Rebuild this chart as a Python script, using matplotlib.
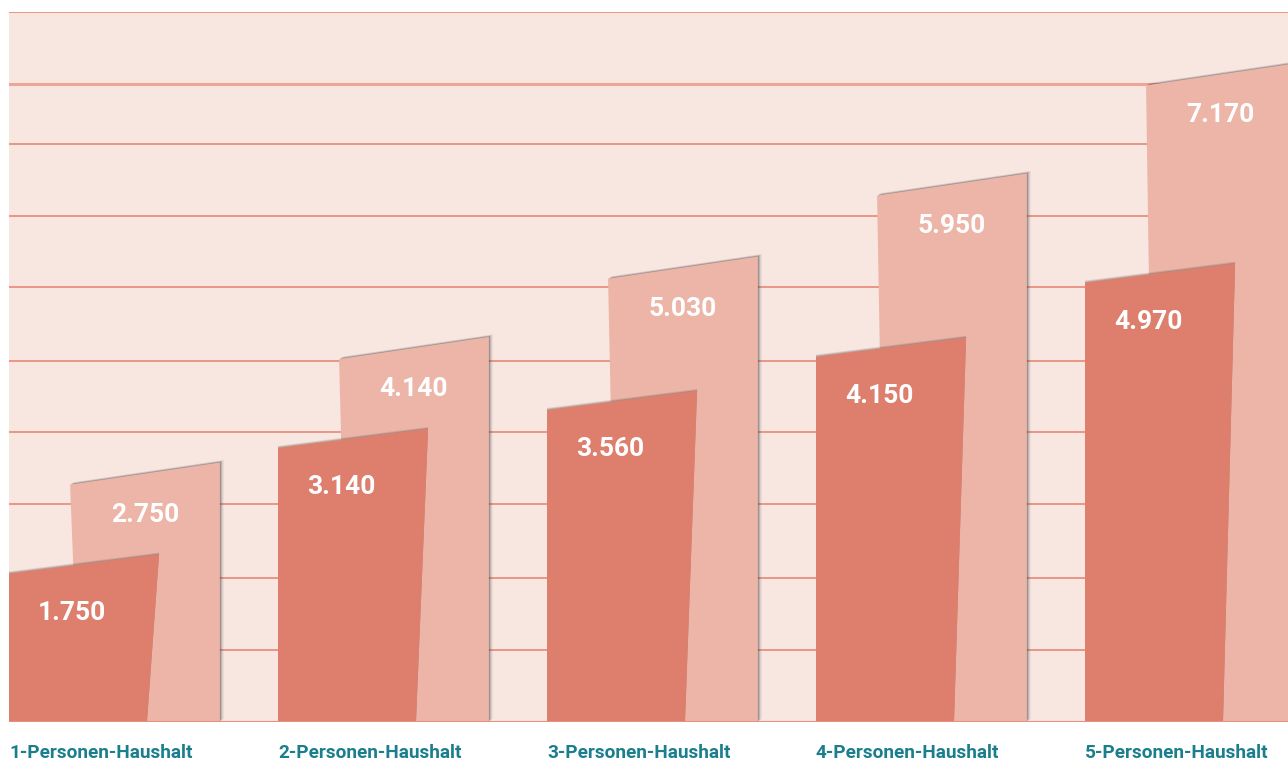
import matplotlib
matplotlib.use("Agg")
import matplotlib.pyplot as plt
from matplotlib.patches import Polygon
import matplotlib.patheffects as pe

# Daten
kategorien = ['1-Personen-Haushalt', '2-Personen-Haushalt', '3-Personen-Haushalt',
              '4-Personen-Haushalt', '5-Personen-Haushalt']
vorne = [1750, 3140, 3560, 4150, 4970]    # dunkle Balken
hinten = [2750, 4140, 5030, 5950, 7170]   # helle Balken
gitter = [0, 800, 1595, 2415, 3210, 4000, 4815, 5600, 6400, 7065, 7860]

# Farben
hg = '#F8E6E0'
linie = '#E8907E'
dunkel = '#DE7F6E'
hell = '#ECB5A8'
petrol = '#1A7E8C'

plt.rcParams['font.family'] = ['Roboto', 'DejaVu Sans']

fig = plt.figure(figsize=(12.88, 7.63), dpi=100)
ax = fig.add_axes([9/1288, 41/763, 1279/1288, 710/763])
ax.set_facecolor(hg)
ax.set_xlim(0, 1279/269)
ax.set_ylim(0, 7860)
for s in ax.spines.values():
    s.set_visible(False)
ax.set_xticks([])
ax.set_yticks([])

# Gitterlinien
for k, g in enumerate(gitter):
    if k == 9:
        ax.axhline(g, color='#EDA597', lw=2.2, zorder=1)
    else:
        ax.axhline(g, color=linie, lw=1.3, zorder=1)

# Schatten: hinten nach rechts oben, vorne nur nach oben
schatten_h = [pe.SimplePatchShadow(offset=(0.8, 0.6), shadow_rgbFace='#444444', alpha=0.3),
              pe.SimplePatchShadow(offset=(1.6, 1.2), shadow_rgbFace='#444444', alpha=0.2),
              pe.SimplePatchShadow(offset=(2.6, 1.8), shadow_rgbFace='#444444', alpha=0.12),
              pe.Normal()]
schatten_v = [pe.SimplePatchShadow(offset=(0, 0.7), shadow_rgbFace='#444444', alpha=0.25),
              pe.SimplePatchShadow(offset=(0, 1.4), shadow_rgbFace='#444444', alpha=0.15),
              pe.Normal()]

kippe_v = 210  # Schraege oben
kippe_h = 245

for i in range(len(kategorien)):
    v = vorne[i]
    h = hinten[i]
    # heller Balken hinten
    p2 = Polygon([(i + 0.262, 0), (i + 0.227, h - kippe_h/2), (i + 0.784, h + kippe_h/2),
                  (i + 0.784, 0)], closed=True, fc=hell, ec='none', zorder=2,
                 path_effects=schatten_h)
    ax.add_patch(p2)
    # dunkler Balken vorne
    p1 = Polygon([(i, 0), (i, v - kippe_v/2), (i + 0.558, v + kippe_v/2),
                  (i + 0.513, 0)], closed=True, fc=dunkel, ec='none', zorder=3,
                 path_effects=schatten_v)
    ax.add_patch(p1)

    ax.text(i + 0.505, h - 455, f"{h:,}".replace(',', '.'), color='white',
            fontsize=19, fontweight='bold', ha='center', va='center', zorder=5)
    ax.text(i + 0.235, v - 540, f"{v:,}".replace(',', '.'), color='white',
            fontsize=19, fontweight='bold', ha='center', va='center', zorder=5)
    ax.text(i, -340, kategorien[i], color=petrol, fontsize=13.7, fontweight='bold',
            ha='left', va='center', clip_on=False)

ax.axhline(0, color=linie, lw=1.5, zorder=6)

fig.savefig('out.png', dpi=100, facecolor='white')
